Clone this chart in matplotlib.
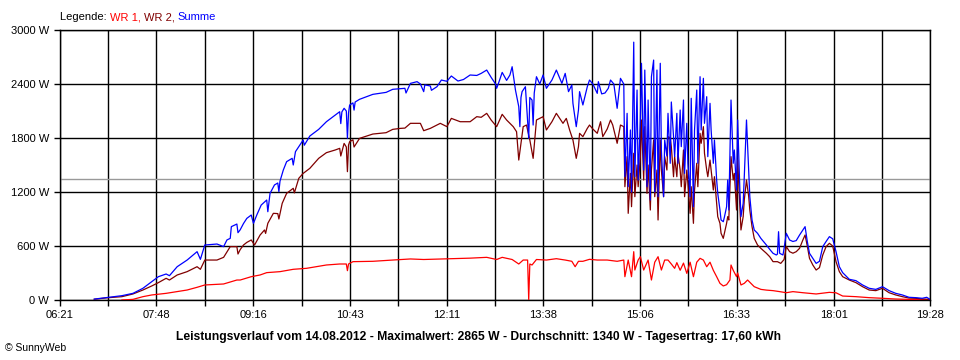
import matplotlib
matplotlib.use("Agg")
import matplotlib.pyplot as plt
from matplotlib.ticker import FixedLocator, NullFormatter

plt.rcParams['font.family'] = ['Liberation Sans', 'DejaVu Sans']

def to_min(s):
    h, m = s.split(":")
    return int(h) * 60 + int(m)

# ---------------- data ----------------
x_tick_labels = ["06:21", "07:48", "09:16", "10:43", "12:11",
                 "13:38", "15:06", "16:33", "18:01", "19:28"]
y_ticks = [0, 600, 1200, 1800, 2400, 3000]
average_w = 1340

wr1_time = ["07:17", "07:27", "07:36", "07:44", "07:57", "08:16", "08:25", "08:32", "08:49", "09:01",
            "09:04", "09:14", "09:22", "09:28", "09:40", "09:52", "10:04", "10:22", "10:34", "10:40",
            "10:41", "10:42", "10:46", "11:04", "11:22", "11:38", "11:50", "12:15", "12:32", "12:47",
            "12:56", "13:01", "13:10", "13:16", "13:20", "13:24", "13:25", "13:26", "13:28", "13:32",
            "13:41", "13:50", "13:58", "14:04", "14:07", "14:10", "14:14", "14:20", "14:27", "14:36",
            "14:45", "14:51", "14:52", "14:55", "14:58", "15:00", "15:01", "15:04", "15:06", "15:09",
            "15:13", "15:16", "15:19", "15:22", "15:25", "15:28", "15:31", "15:34", "15:37", "15:39",
            "15:42", "15:45", "15:48", "15:51", "15:54", "15:57", "16:00", "16:03", "16:06", "16:09",
            "16:12", "16:15", "16:18", "16:21", "16:24", "16:27", "16:28", "16:30", "16:33", "16:34",
            "16:37", "16:40", "16:43", "16:46", "16:49", "16:55", "17:00", "17:06", "17:12", "17:18",
            "17:24", "17:33", "17:45", "17:57", "18:03", "18:09", "18:21", "18:33", "18:45", "18:57",
            "19:09", "19:28"]
wr1_power = [0, 7, 37, 56, 74, 111, 141, 167, 178, 222,
             222, 259, 278, 304, 315, 341, 352, 389, 400, 400,
             326, 400, 426, 430, 444, 456, 450, 459, 465, 474,
             450, 474, 450, 400, 444, 444, 0, 400, 389, 450,
             444, 459, 444, 430, 370, 430, 430, 452, 444, 444,
             430, 444, 259, 444, 259, 537, 333, 444, 481, 333,
             444, 222, 420, 481, 333, 444, 444, 400, 352, 415,
             330, 410, 296, 420, 259, 420, 463, 444, 370, 420,
             330, 259, 185, 156, 170, 222, 389, 330, 259, 300,
             167, 185, 222, 185, 148, 118, 110, 104, 93, 81,
             93, 81, 67, 85, 80, 44, 37, 26, 19, 11,
             7, 4]

wr2_time = ["06:52", "07:04", "07:17", "07:27", "07:36", "07:44", "07:50", "07:57", "08:00", "08:07",
            "08:16", "08:25", "08:28", "08:32", "08:43", "08:49", "08:55", "09:01", "09:02", "09:04",
            "09:07", "09:10", "09:14", "09:17", "09:22", "09:26", "09:27", "09:29", "09:34", "09:38",
            "09:39", "09:42", "09:46", "09:52", "09:53", "09:57", "10:01", "10:07", "10:15", "10:22",
            "10:30", "10:34", "10:35", "10:38", "10:40", "10:41", "10:42", "10:43", "10:46", "10:47",
            "10:52", "11:04", "11:16", "11:22", "11:29", "11:33", "11:38", "11:47", "11:50", "11:56",
            "12:05", "12:11", "12:15", "12:23", "12:32", "12:38", "12:42", "12:47", "12:51", "12:56",
            "13:01", "13:05", "13:11", "13:14", "13:16", "13:20", "13:23", "13:26", "13:29", "13:32",
            "13:38", "13:41", "13:46", "13:50", "13:56", "13:59", "14:02", "14:05", "14:08", "14:10",
            "14:11", "14:14", "14:18", "14:20", "14:23", "14:27", "14:30", "14:32", "14:36", "14:39",
            "14:41", "14:45", "14:48", "14:51", "14:52", "14:54", "14:55", "14:57", "14:58", "15:00",
            "15:01", "15:03", "15:04", "15:06", "15:07", "15:09", "15:10", "15:12", "15:13", "15:15",
            "15:16", "15:18", "15:19", "15:21", "15:22", "15:24", "15:25", "15:27", "15:28", "15:30",
            "15:31", "15:33", "15:34", "15:36", "15:37", "15:39", "15:40", "15:42", "15:43", "15:45",
            "15:46", "15:48", "15:49", "15:51", "15:52", "15:54", "15:55", "15:57", "15:58", "16:00",
            "16:01", "16:03", "16:04", "16:06", "16:07", "16:09", "16:10", "16:12", "16:13", "16:15",
            "16:16", "16:18", "16:19", "16:21", "16:22", "16:24", "16:25", "16:26", "16:28", "16:30",
            "16:31", "16:33", "16:34", "16:36", "16:37", "16:39", "16:40", "16:42", "16:44", "16:45",
            "16:47", "16:49", "16:52", "16:55", "17:00", "17:03", "17:06", "17:10", "17:13", "17:16",
            "17:18", "17:21", "17:24", "17:27", "17:30", "17:33", "17:35", "17:37", "17:39", "17:42",
            "17:45", "17:48", "17:51", "17:54", "17:57", "18:00", "18:03", "18:06", "18:09", "18:15",
            "18:21", "18:27", "18:33", "18:39", "18:45", "18:51", "18:57", "19:03", "19:09", "19:15",
            "19:21", "19:28"]
wr2_power = [8, 25, 37, 67, 111, 156, 193, 241, 222, 278,
             315, 370, 341, 444, 444, 474, 593, 593, 511, 560,
             611, 640, 667, 611, 722, 778, 740, 852, 963, 960,
             900, 1074, 1185, 1241, 1190, 1352, 1407, 1463, 1574, 1637,
             1667, 1685, 1600, 1740, 1700, 1426, 1720, 1759, 1780, 1700,
             1796, 1844, 1859, 1896, 1907, 1910, 1963, 1963, 1881, 1907,
             1963, 1926, 2018, 1981, 1981, 2037, 2030, 2074, 2000, 1926,
             2063, 2000, 1926, 1870, 1555, 1926, 1944, 1778, 1574, 2000,
             2037, 1889, 1981, 2074, 1963, 2018, 1889, 1778, 1574, 1704,
             1852, 1815, 1907, 1944, 1900, 1852, 1981, 1815, 1900, 2000,
             1944, 1741, 1944, 1926, 1259, 1593, 963, 1407, 1037, 1630,
             1148, 1500, 1259, 1593, 2000, 1333, 1926, 1185, 1500, 1000,
             1444, 1778, 1148, 1444, 889, 1778, 1444, 1148, 1593, 1444,
             1815, 1800, 1704, 1370, 1593, 1370, 1630, 1444, 1259, 1667,
             1148, 1444, 1296, 963, 1259, 852, 1222, 1519, 1259, 1852,
             1741, 1926, 1630, 1444, 1370, 1555, 1444, 1222, 1370, 1074,
             926, 852, 741, 685, 741, 852, 926, 889, 1593, 1333,
             1407, 1000, 1556, 1037, 778, 926, 1111, 1333, 1148, 1000,
             815, 685, 611, 574, 519, 481, 426, 426, 407, 450,
             593, 537, 520, 537, 574, 667, 722, 600, 463, 389,
             333, 360, 500, 593, 630, 600, 426, 315, 259, 222,
             193, 148, 111, 104, 130, 81, 56, 37, 22, 19,
             11, 7]

sum_time = ["06:52", "07:04", "07:17", "07:27", "07:36", "07:44", "07:50", "07:57", "08:00", "08:07",
            "08:16", "08:25", "08:28", "08:32", "08:43", "08:49", "08:52", "08:55", "08:56", "09:01",
            "09:02", "09:04", "09:07", "09:10", "09:14", "09:16", "09:19", "09:23", "09:28", "09:29",
            "09:31", "09:35", "09:38", "09:39", "09:40", "09:43", "09:46", "09:51", "09:52", "09:54",
            "09:57", "10:01", "10:02", "10:07", "10:15", "10:22", "10:30", "10:34", "10:35", "10:36",
            "10:38", "10:40", "10:41", "10:42", "10:43", "10:46", "10:47", "10:48", "10:52", "11:04",
            "11:16", "11:22", "11:33", "11:34", "11:38", "11:44", "11:47", "11:50", "11:51", "11:56",
            "11:57", "12:02", "12:06", "12:11", "12:15", "12:21", "12:26", "12:32", "12:38", "12:42",
            "12:47", "12:51", "12:55", "12:56", "12:58", "13:01", "13:05", "13:08", "13:10", "13:13",
            "13:16", "13:17", "13:18", "13:19", "13:22", "13:25", "13:26", "13:28", "13:29", "13:30",
            "13:32", "13:35", "13:38", "13:41", "13:46", "13:50", "13:55", "13:58", "14:01", "14:04",
            "14:05", "14:08", "14:10", "14:11", "14:14", "14:18", "14:20", "14:23", "14:27", "14:28",
            "14:31", "14:34", "14:37", "14:39", "14:42", "14:45", "14:48", "14:51", "14:52", "14:54",
            "14:55", "14:57", "14:58", "15:00", "15:01", "15:03", "15:04", "15:06", "15:07", "15:09",
            "15:10", "15:12", "15:13", "15:15", "15:16", "15:18", "15:19", "15:21", "15:22", "15:24",
            "15:25", "15:27", "15:28", "15:30", "15:31", "15:33", "15:34", "15:36", "15:37", "15:39",
            "15:40", "15:42", "15:43", "15:45", "15:46", "15:48", "15:49", "15:51", "15:52", "15:54",
            "15:55", "15:57", "15:58", "16:00", "16:01", "16:03", "16:04", "16:06", "16:07", "16:09",
            "16:10", "16:12", "16:13", "16:15", "16:16", "16:18", "16:19", "16:21", "16:22", "16:24",
            "16:25", "16:26", "16:28", "16:30", "16:31", "16:33", "16:34", "16:36", "16:37", "16:39",
            "16:40", "16:42", "16:44", "16:45", "16:47", "16:49", "16:52", "16:55", "17:00", "17:03",
            "17:06", "17:09", "17:10", "17:11", "17:12", "17:15", "17:16", "17:18", "17:21", "17:24",
            "17:27", "17:30", "17:33", "17:35", "17:37", "17:39", "17:42", "17:45", "17:48", "17:51",
            "17:54", "17:57", "18:00", "18:03", "18:06", "18:09", "18:15", "18:21", "18:27", "18:33",
            "18:39", "18:45", "18:51", "18:57", "19:03", "19:09", "19:15", "19:21", "19:25", "19:28"]
sum_power = [10, 28, 48, 74, 130, 204, 259, 289, 270, 370,
             444, 537, 452, 611, 622, 593, 667, 685, 815, 844,
             748, 780, 850, 907, 944, 852, 944, 1055, 1111, 981,
             1185, 1278, 1300, 1204, 1320, 1444, 1537, 1574, 1500, 1648,
             1704, 1778, 1720, 1822, 1896, 1981, 2055, 2092, 1960, 2090,
             2130, 2100, 1796, 2080, 2166, 2190, 2110, 2200, 2230, 2285,
             2307, 2341, 2352, 2300, 2407, 2426, 2400, 2315, 2390, 2378,
             2330, 2370, 2444, 2430, 2489, 2433, 2450, 2500, 2495, 2518,
             2555, 2474, 2400, 2352, 2420, 2529, 2440, 2500, 2592, 2333,
             2148, 1926, 2250, 2315, 2370, 1796, 2250, 2222, 1944, 2300,
             2481, 2400, 2500, 2352, 2444, 2555, 2407, 2518, 2315, 2389,
             2185, 1926, 2111, 2315, 2167, 2370, 2444, 2400, 2296, 2426,
             2290, 2300, 2352, 2444, 2400, 2130, 2463, 2400, 1370, 2074,
             1259, 1889, 1200, 2865, 1370, 2333, 1333, 2000, 2630, 1444,
             2555, 1259, 2222, 1111, 2481, 2666, 1200, 2555, 1148, 2630,
             1667, 1148, 1778, 1600, 2074, 1519, 2200, 1815, 1593, 2074,
             1519, 2111, 1704, 2222, 1407, 1963, 1519, 1148, 2241, 1037,
             1889, 2333, 1519, 2481, 1889, 2463, 1963, 2259, 1593, 2185,
             1889, 1519, 1778, 1333, 1185, 1000, 889, 870, 920, 1037,
             1333, 1000, 2222, 1519, 1667, 1222, 2000, 1222, 926, 1074,
             1370, 2000, 1444, 1148, 889, 778, 741, 685, 611, 563,
             519, 500, 510, 759, 519, 500, 574, 741, 667, 650,
             660, 722, 778, 815, 650, 519, 463, 407, 430, 593,
             650, 704, 680, 537, 370, 304, 230, 215, 167, 130,
             118, 148, 104, 74, 56, 30, 26, 19, 30, 7]

title_text = ("Leistungsverlauf vom 14.08.2012 - Maximalwert: 2865 W - "
              "Durchschnitt: 1340 W - Tagesertrag: 17,60 kWh")
legend_parts = [("Legende: ", "#000000"), ("WR 1, ", "#ff0000"),
                ("WR 2, ", "#800000"), ("Summe", "#0000ff")]
credit_text = "\u00a9 SunnyWeb"

# ---------------- figure ----------------
W, H = 960, 360
fig = plt.figure(figsize=(W / 100, H / 100), dpi=100, facecolor="white")
ax = fig.add_axes([60 / W, 1 - 300 / H, 870 / W, 270 / H])

major = [to_min(s) for s in x_tick_labels]
minor = [(a + b) / 2 for a, b in zip(major[:-1], major[1:])]

ax.set_xlim(major[0], major[-1])
ax.set_ylim(y_ticks[0], y_ticks[-1])
ax.xaxis.set_major_locator(FixedLocator(major))
ax.xaxis.set_minor_locator(FixedLocator(minor))
ax.xaxis.set_minor_formatter(NullFormatter())
ax.set_xticklabels(x_tick_labels)
ax.set_yticks(y_ticks)
ax.set_yticklabels([f"{v} W" for v in y_ticks])

ax.grid(True, which="both", axis="x", color="black", lw=1.0)
ax.grid(True, which="major", axis="y", color="black", lw=1.0)
ax.set_axisbelow(True)
for sp in ax.spines.values():
    sp.set_color("black")
    sp.set_linewidth(1.0)

ax.tick_params(axis="both", which="both", direction="out", length=4,
               width=1.0, color="black", labelsize=8, labelcolor="black")
ax.tick_params(axis="x", which="major", pad=3)
ax.tick_params(axis="y", which="major", pad=4)

ax.axhline(average_w, color="#999999", lw=1.0, zorder=1.5)

ax.plot([to_min(s) for s in wr1_time], wr1_power, color="#ff0000", lw=0.9, zorder=3)
ax.plot([to_min(s) for s in wr2_time], wr2_power, color="#800000", lw=0.9, zorder=3)
ax.plot([to_min(s) for s in sum_time], sum_power, color="#0000ff", lw=0.9, zorder=3)

fig.text(479 / W, 1 - 337 / H, title_text, ha="center", va="center",
         fontsize=8.7, fontweight="bold", color="black")
fig.text(5 / W, 1 - 348 / H, credit_text, ha="left", va="center",
         fontsize=7.5, color="black")

# multi-coloured legend line; trailing spaces measured with a guard glyph
fig.canvas.draw()
renderer = fig.canvas.get_renderer()

def text_width(s):
    t = fig.text(0, 0, s + "|", fontsize=8)
    g = fig.text(0, 0, "|", fontsize=8)
    w = t.get_window_extent(renderer=renderer).width - g.get_window_extent(renderer=renderer).width
    t.remove()
    g.remove()
    return w

xpos = 60 / W
for txt, col in legend_parts:
    fig.text(xpos, 1 - 17 / H, txt, ha="left", va="center", fontsize=8, color=col)
    xpos += text_width(txt) / fig.bbox.width

fig.savefig("out.png", dpi=100, facecolor="white")
